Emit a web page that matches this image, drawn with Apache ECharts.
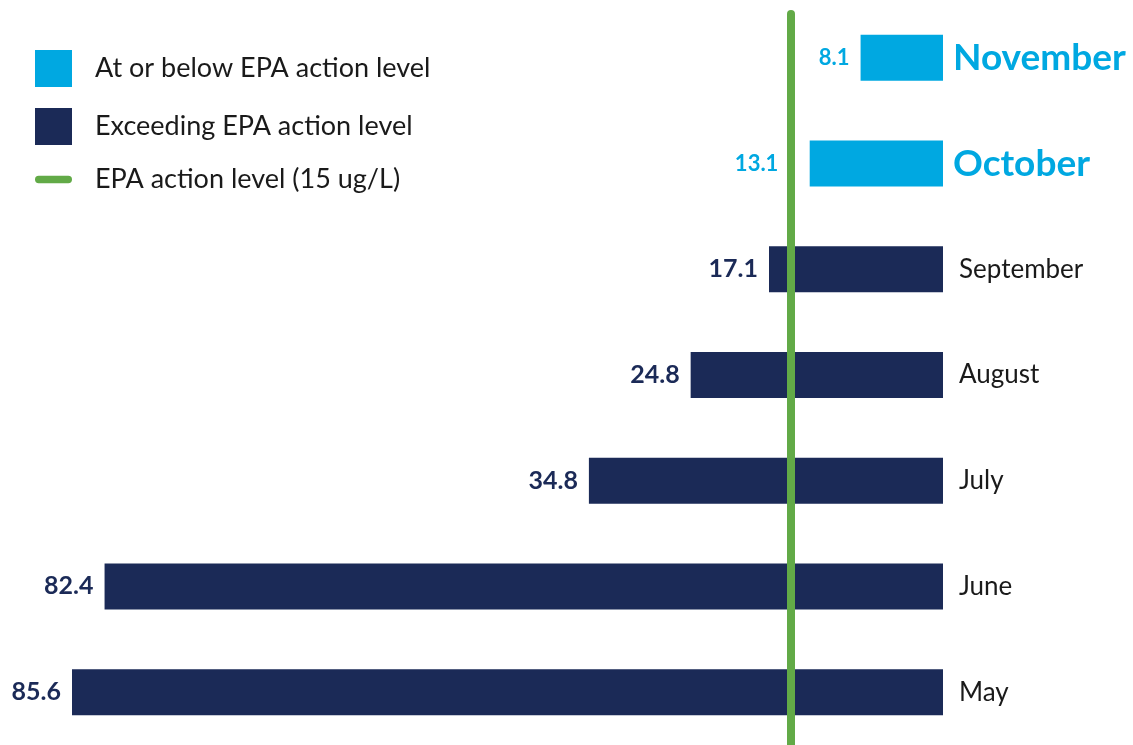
<!DOCTYPE html>
<html>
<head>
<meta charset="utf-8">
<title>Lead levels by month</title>
<script src="https://cdn.jsdelivr.net/npm/echarts@6/dist/echarts.min.js"></script>
<style>
  html, body { margin: 0; padding: 0; background: #fff; }
  #chart { width: 1133px; height: 745px; }
</style>
</head>
<body>
<div id="chart"></div>
<script>
// data, top to bottom
var months = ['November', 'October', 'September', 'August', 'July', 'June', 'May'];
var belowLevel = [8.1, 13.1, '-', '-', '-', '-', '-'];
var aboveLevel = ['-', '-', 17.1, 24.8, 34.8, 82.4, 85.6];
var actionLevel = 15;
var highlightMonths = ['November', 'October'];

var LIGHT = '#00a8e1', NAVY = '#1b2a57', GREEN = '#62aa47';
var FONT = 'Lato';

var chart = echarts.init(document.getElementById('chart'));

var option = {
  animation: false,
  textStyle: { fontFamily: FONT },
  legend: {
    orient: 'vertical',
    left: 35,
    top: 50,
    padding: 0,
    itemWidth: 37,
    itemHeight: 37,
    itemGap: 21,
    textStyle: { fontSize: 27, color: '#1a1a1a', fontFamily: FONT, padding: [0, 0, 0, 18] },
    data: [
      { name: 'At or below EPA action level', icon: 'rect' },
      { name: 'Exceeding EPA action level', icon: 'rect' },
      // thin pill for the action level line
      { name: 'EPA action level (15 ug/L)',
        icon: 'path://M3.5,0 L31.5,0 A3.5,3.5 0 0 1 31.5,7 L3.5,7 A3.5,3.5 0 0 1 3.5,0 Z' }
    ]
  },
  grid: { left: 72, right: 190, top: 5, bottom: -14 },
  xAxis: {
    type: 'value',
    inverse: true,
    min: 0,
    max: Math.max.apply(null, aboveLevel.filter(function (v) { return v !== '-'; })),
    show: false
  },
  yAxis: {
    type: 'category',
    inverse: true,
    position: 'right',
    data: months,
    axisLine: { show: false },
    axisTick: { show: false },
    splitLine: { show: false },
    axisLabel: {
      margin: 10,
      formatter: function (v) {
        return highlightMonths.indexOf(v) >= 0 ? '{hi|' + v + '}' : '{lo|' + v + '}';
      },
      rich: {
        hi: { fontSize: 37, fontWeight: 'bold', color: LIGHT, fontFamily: FONT },
        lo: { fontSize: 26, color: '#1a1a1a', fontFamily: FONT, padding: [0, 0, 0, 6] }
      }
    }
  },
  series: [
    {
      name: 'At or below EPA action level',
      type: 'bar',
      stack: 'lead',
      barWidth: 46,
      itemStyle: { color: LIGHT },
      label: {
        show: true, position: 'left', distance: 11,
        fontSize: 22, fontWeight: 'bold', color: LIGHT, fontFamily: FONT
      },
      data: belowLevel
    },
    {
      name: 'Exceeding EPA action level',
      type: 'bar',
      stack: 'lead',
      barWidth: 46,
      itemStyle: { color: NAVY },
      label: {
        show: true, position: 'left', distance: 11,
        fontSize: 25, fontWeight: 'bold', color: NAVY, fontFamily: FONT
      },
      data: aboveLevel
    },
    {
      name: 'EPA action level (15 ug/L)',
      type: 'line',
      symbol: 'none',
      color: GREEN,
      itemStyle: { color: GREEN },
      lineStyle: { color: GREEN, width: 7, cap: 'round' },
      data: [],
      z: 5
    }
  ]
};

chart.setOption(option);

// green line: from near the top of the chart down past the bottom edge
var lineX = chart.convertToPixel({ xAxisIndex: 0 }, actionLevel);

// push value labels of short bars to the left of the green line
var belowData = belowLevel.map(function (v) {
  if (v === '-') return v;
  var endX = chart.convertToPixel({ xAxisIndex: 0 }, v);
  if (endX - lineX < 30) {
    return { value: v, label: { distance: endX - lineX + 12 } };
  }
  return v;
});

chart.setOption({
  series: [
    { data: belowData },
    {},
    {
      markLine: {
        silent: true,
        symbol: 'none',
        label: { show: false },
        lineStyle: { color: GREEN, width: 8, type: 'solid', cap: 'round' },
        data: [[{ x: lineX, y: 14 }, { x: lineX, y: 760 }]]
      }
    }
  ]
});
</script>
</body>
</html>
